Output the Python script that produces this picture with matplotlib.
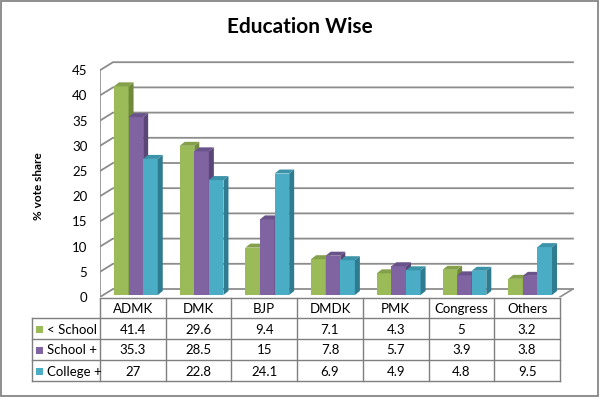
import matplotlib
matplotlib.use("Agg")
import matplotlib.pyplot as plt
from matplotlib.patches import Polygon, Rectangle
import numpy as np

plt.rcParams['font.family'] = ['Lato', 'DejaVu Sans']

# data
parties = ["ADMK", "DMK", "BJP", "DMDK", "PMK", "Congress", "Others"]
series_names = ["< School", "School +", "College +"]
below_school = [41.4, 29.6, 9.4, 7.1, 4.3, 5, 3.2]
school_plus = [35.3, 28.5, 15, 7.8, 5.7, 3.9, 3.8]
college_plus = [27, 22.8, 24.1, 6.9, 4.9, 4.8, 9.5]
yticks = list(range(0, 50, 5))

front_cols = ["#9BBB59", "#8064A2", "#4BACC6"]
side_cols = ["#6F8A3A", "#5A4677", "#2F7C90"]
top_cols = ["#84A04A", "#6A538A", "#3B93AA"]
grid_col = "#8C8C8C"

W, H = 600, 399
fig = plt.figure(figsize=(W / 100, H / 100), dpi=100)

# background axes in pixel units for border, table and labels
bg = fig.add_axes([0, 0, 1, 1])
bg.set_xlim(0, W)
bg.set_ylim(H, 0)
bg.axis("off")
bg.add_patch(Rectangle((1, 1), 597, 395, fill=False, ec="#868686", lw=1.3))

# main plot area: front plane, 0 at y=297px, 5.04 px per unit
cw = 65.71
ppu = 5.04
left_px, right_px, base_px, top_px = 100, 580, 297, 55
ax = fig.add_axes([left_px / W, (H - base_px) / H,
                   (right_px - left_px) / W, (base_px - top_px) / H])
ax.set_xlim(-0.5, -0.5 + (right_px - left_px) / cw)
ax.set_ylim(0, (base_px - top_px) / ppu)
ax.patch.set_alpha(0)
for s in ax.spines.values():
    s.set_visible(False)
ax.set_xticks([])
ax.set_yticks(yticks)
ax.tick_params(axis="y", length=0, pad=9, labelsize=9.5)

n = len(parties)
DX, DY = 13 / cw, 8 / ppu          # wall depth
PX, PY = 3 / cw, 2 / ppu           # bar plane offset
BDX, BDY = 5 / cw, 4 / ppu         # bar depth
bw = 14.6 / cw

# walls and gridlines
x0, x1 = -0.5, n - 0.5
for v in yticks:
    ax.plot([x0, x0 + DX, x1 + DX], [v, v + DY, v + DY], color=grid_col, lw=1.3, zorder=1)
ax.plot([x0, x0], [0, 45], color=grid_col, lw=1.2, zorder=1)
ax.plot([x1, x1 + DX], [0, DY], color=grid_col, lw=1.2, zorder=1)

# 3d columns
data = [below_school, school_plus, college_plus]
z = 2
for c in range(n):
    for i, vals in enumerate(data):
        v = vals[c]
        xc = c + PX + (i - 1) * bw
        xl, xr = xc - bw / 2, xc + bw / 2
        ax.bar(xc, v, width=bw, bottom=PY, color=front_cols[i], lw=0, zorder=z)
        ax.add_patch(Polygon([(xr, PY), (xr + BDX, PY + BDY), (xr + BDX, PY + v + BDY), (xr, PY + v)],
                             closed=True, fc=side_cols[i], lw=0, zorder=z))
        ax.add_patch(Polygon([(xl, PY + v), (xl + BDX, PY + v + BDY), (xr + BDX, PY + v + BDY), (xr, PY + v)],
                             closed=True, fc=top_cols[i], lw=0, zorder=z))
        z += 1

# title and axis label
bg.text(300, 27, "Education Wise", ha="center", va="center", fontsize=15, fontweight="bold")
bg.text(38, 186, "% vote share", ha="center", va="center", rotation=90, fontsize=8.5, fontweight="bold")

# data table
tcol = "#7F7F7F"
tl, tx0, tx1 = 32, 100, 560
rows_y = [298, 318, 339, 360, 381]
bg.plot([tx0, tx1], [rows_y[0], rows_y[0]], color=tcol, lw=1)
for y in rows_y[1:]:
    bg.plot([tl, tx1], [y, y], color=tcol, lw=1)
bg.plot([tl, tl], [rows_y[1], rows_y[-1]], color=tcol, lw=1)
for k in range(n + 1):
    xx = tx0 + k * cw
    bg.plot([xx, xx], [rows_y[0], rows_y[-1]], color=tcol, lw=1)

for k, p in enumerate(parties):
    bg.text(tx0 + (k + 0.5) * cw, (rows_y[0] + rows_y[1]) / 2 + 1, p, ha="center", va="center", fontsize=9.5)
for r, (name, vals) in enumerate(zip(series_names, data)):
    yc = (rows_y[r + 1] + rows_y[r + 2]) / 2 + 1
    bg.add_patch(Rectangle((36, yc - 4), 7, 7, fc=front_cols[r], ec="none"))
    bg.text(47, yc, name, ha="left", va="center", fontsize=9.5)
    for k, v in enumerate(vals):
        bg.text(tx0 + (k + 0.5) * cw, yc, f"{v:g}", ha="center", va="center", fontsize=9.5)

fig.savefig("out.png", dpi=100)
